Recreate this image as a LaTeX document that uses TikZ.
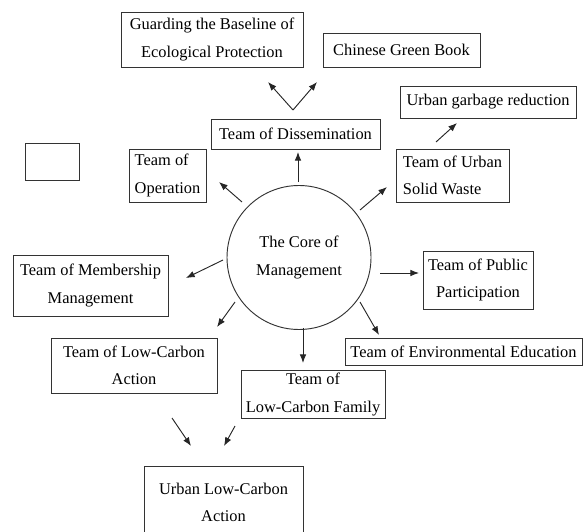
\documentclass[tikz,border=0pt]{standalone}
\usepackage{fontspec}
\setmainfont{Liberation Serif}
\usetikzlibrary{arrows.meta}
\tikzset{>={Latex[length=6.5pt,width=5pt]}}
\tikzstyle{team}=[draw=black!80,line width=0.7,inner sep=2,align=center,
                  font=\fontsize{12.3}{20.5}\selectfont]
\tikzstyle{link}=[->,black!85,line width=0.7]
\tikzstyle{wh}=[minimum width=#1*0.75pt]
\tikzstyle{ht}=[minimum height=#1*0.75pt]

\begin{document}
\begin{tikzpicture}[x=0.75pt,y=-0.75pt]
  \useasboundingbox (0,0) rectangle (584,531);
  \clip (0,0) rectangle (584,531);

  % CORE
  \node[team,circle,minimum size=108pt] (core) at (299,257.5)
    {The Core of\\Management};

  % TOP BRANCH
  \node[team,wh=182,ht=55] (guard) at (212,39.5)
    {Guarding the Baseline of\\Ecological Protection};
  \node[team,wh=157,ht=34] (green) at (401.5,50) {Chinese Green Book};
  \node[team,wh=176,ht=32] (garbage) at (488,102) {Urban garbage reduction};
  \node[team,wh=169,ht=30] (dissem) at (295.5,134) {Team of Dissemination};
  \node[team,wh=54,ht=37] (blank) at (52,161.5) {};
  \node[team,align=left,wh=77,ht=53] (oper) at (167.5,175.5)
    {Team of\\Operation};
  \node[team,align=left,wh=113,ht=53] (solid) at (452.5,175.5)
    {Team of Urban\\Solid Waste};

  % SIDES
  \node[team,wh=155,ht=61] (member) at (90.5,285.5)
    {Team of Membership\\Management};
  \node[team,wh=110,ht=58] (public) at (478,280)
    {Team of Public\\Participation};

  % BOTTOM BRANCH
  \node[team,wh=237,ht=27] (enviro) at (463.5,351.5)
    {Team of Environmental Education};
  \node[team,wh=166,ht=55] (lcaction) at (134,365.5)
    {Team of Low-Carbon\\Action};
  \node[team,wh=144,ht=47] (lcfamily) at (313,394.5)
    {Team of\\Low-Carbon Family};
  \node[team,wh=159,ht=73] (urbanlc) at (223.5,502.5)
    {Urban Low-Carbon\\Action};

  % ARROW ENDS
  \coordinate (vbase) at (293,110);
  \coordinate (vguard) at (268,82);
  \coordinate (vgreen) at (317,82);
  \coordinate (garb-s) at (436,142);   \coordinate (garb-e) at (457,123);
  \coordinate (diss-s) at (298,182);   \coordinate (diss-e) at (298,152);
  \coordinate (solid-s) at (360,210);  \coordinate (solid-e) at (387,187);
  \coordinate (oper-s) at (242,202);   \coordinate (oper-e) at (219,182);
  \coordinate (memb-s) at (223,260);   \coordinate (memb-e) at (186,278);
  \coordinate (publ-s) at (380,273);   \coordinate (publ-e) at (419,273);
  \coordinate (env-s) at (360,302);    \coordinate (env-e) at (379,335);
  \coordinate (act-s) at (235,302);    \coordinate (act-e) at (217,327);
  \coordinate (fam-s) at (303,328);    \coordinate (fam-e) at (303,363);
  \coordinate (ua-s) at (172,418);     \coordinate (ua-e) at (191,446);
  \coordinate (uf-s) at (235,426);     \coordinate (uf-e) at (224,446);

  % ARROWS
  \draw[link] (vbase) -- (vguard);
  \draw[link] (vbase) -- (vgreen);
  \draw[link] (garb-s) -- (garb-e);
  \draw[link] (diss-s) -- (diss-e);
  \draw[link] (solid-s) -- (solid-e);
  \draw[link] (oper-s) -- (oper-e);
  \draw[link] (memb-s) -- (memb-e);
  \draw[link] (publ-s) -- (publ-e);
  \draw[link] (env-s) -- (env-e);
  \draw[link] (act-s) -- (act-e);
  \draw[link] (fam-s) -- (fam-e);
  \draw[link] (ua-s) -- (ua-e);
  \draw[link] (uf-s) -- (uf-e);
\end{tikzpicture}
\end{document}
